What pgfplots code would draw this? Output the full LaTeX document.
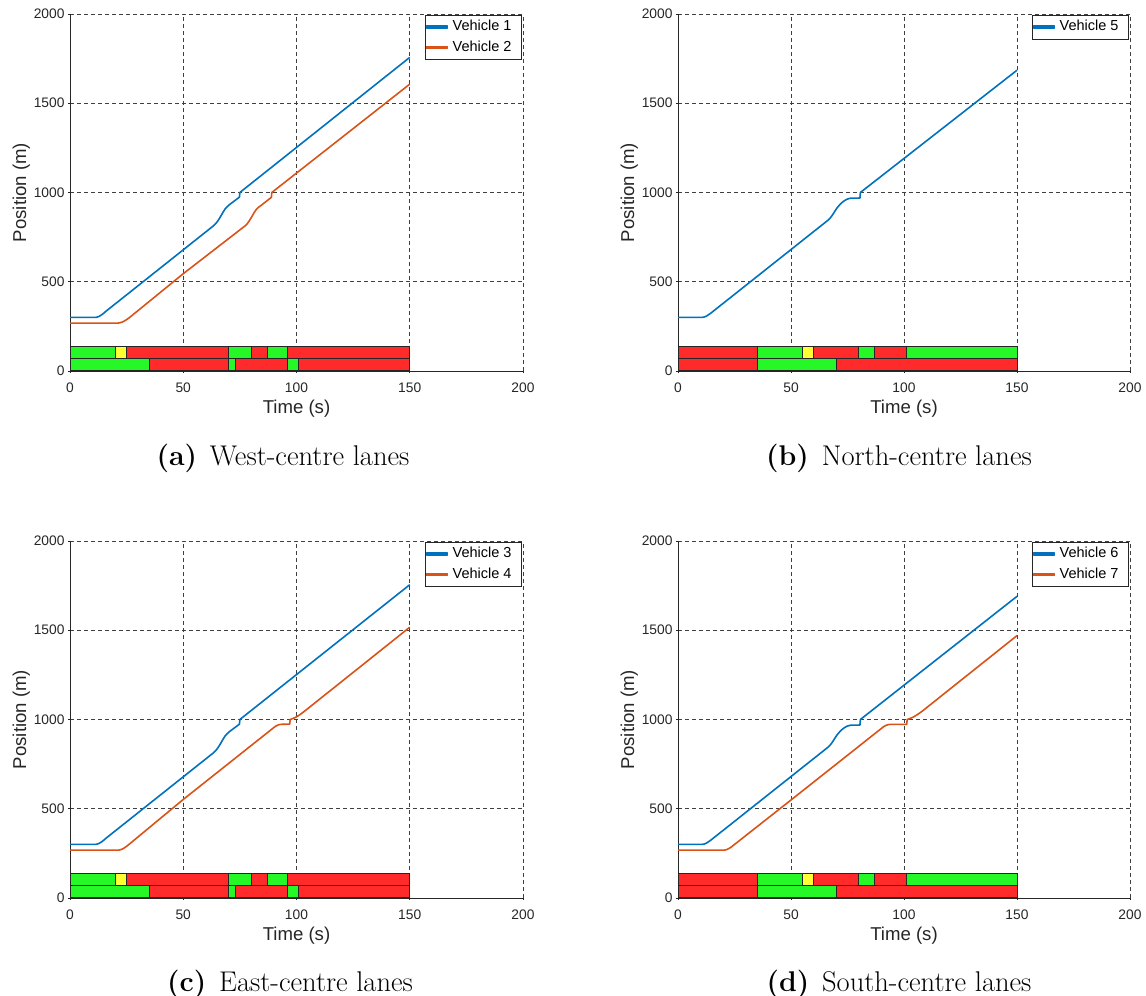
\documentclass[border=0pt]{standalone}
\usepackage{pgfplots}
\pgfplotsset{compat=1.18}
\usepackage{fontspec}
\newfontfamily\helv{Liberation Sans}
\definecolor{mblue}{rgb}{0,0.447,0.741}
\definecolor{morange}{rgb}{0.85,0.325,0.098}
\definecolor{sgreen}{rgb}{0.15,0.97,0.15}
\definecolor{sred}{rgb}{1,0.17,0.17}
\definecolor{syellow}{rgb}{1,1,0.2}
\definecolor{axgray}{rgb}{0.15,0.15,0.15}

\newcommand{\topseg}[3]{\addplot[forget plot, fill=#3, draw=axgray, line width=1pt] coordinates {(#1,70) (#2,70) (#2,140) (#1,140)} -- cycle;}
\newcommand{\botseg}[3]{\addplot[forget plot, fill=#3, draw=axgray, line width=1pt] coordinates {(#1,0) (#2,0) (#2,70) (#1,70)} -- cycle;}

\pgfplotsset{
 panel/.style={
  scale only axis, width=453pt, height=357pt, anchor=south west,
  xmin=0,xmax=200,ymin=0,ymax=2000,
  xtick={0,50,...,200}, ytick={0,500,...,2000},
  axis x line*=bottom, axis y line*=left,
  axis line style={axgray, line width=0.7pt, -},
  grid=major, grid style={black!75, line width=0.7pt, dash pattern=on 4pt off 3pt},
  tick align=outside, major tick length=2pt, tick style={axgray, line width=0.7pt},
  ticklabel style={font=\helv\fontsize{13.8}{15}\selectfont, text=axgray},
  xticklabel style={yshift=-6pt},
  /pgf/number format/assume math mode=true,
  /pgf/number format/1000 sep={},
  xlabel={Time (s)}, ylabel={Position (m)},
  label style={font=\helv\fontsize{18.6}{21}\selectfont, text=axgray},
  xlabel style={yshift=-1pt},
  ylabel style={yshift=-3pt},
  legend style={at={(rel axis cs:0.996,0.997)}, anchor=north east,
     font=\helv\fontsize{14.5}{16}\selectfont, draw=axgray,
     fill=white, inner xsep=0.5pt, inner ysep=1.5pt,
     nodes={inner xsep=2pt, inner ysep=3pt, text height=11pt, text depth=3.5pt},
     /tikz/every odd column/.append style={column sep=2.5pt}},
  legend image code/.code={\fill[#1] (0pt,-1pt) rectangle (21pt,1pt);},
  legend cell align=left,
 },
 veh/.style={line width=1.6pt, line join=round},
}

\begin{document}
\begin{tikzpicture}[x=1pt,y=1pt]
\useasboundingbox (0,0) rectangle (1146,996);

% (a)
\begin{axis}[panel, at={(70pt,625pt)}]
\topseg{0}{20}{sgreen}\topseg{20}{25}{syellow}\topseg{25}{70}{sred}\topseg{70}{80}{sgreen}
\topseg{80}{87.4}{sred}\topseg{87.4}{96.2}{sgreen}\topseg{96.2}{150}{sred}
\botseg{0}{35}{sgreen}\botseg{35}{70}{sred}\botseg{70}{73}{sgreen}\botseg{73}{96.2}{sred}
\botseg{96.2}{101}{sgreen}\botseg{101}{150}{sred}
\addplot[veh, mblue] coordinates {(0,300) (11,300) (12,302) (13,307) (14,315) (15,325) (16,336) (17,346) (63.5,815) (64.5,828) (65.5,845) (66.5,866) (67.5,888) (68.5,908) (69.5,922) (70.5,933) (74.6,972) (74.8,974) (75,1000) (150,1757)};
\addlegendentry{Vehicle 1\hspace*{7pt}}
\addplot[veh, morange] coordinates {(0,268) (21,268) (22,270) (23,274) (24,280) (25,288) (26,297) (27,307) (50,545) (77.2,812) (78.2,824) (79.2,842) (80.2,863) (81.2,885) (82.2,904) (83.2,917) (84.2,926) (88.6,970) (88.9,972) (89.1,1000) (150,1607)};
\addlegendentry{Vehicle 2\hspace*{7pt}}
\end{axis}

% (b)
\begin{axis}[panel, at={(678pt,625pt)}, width=452pt]
\topseg{0}{35}{sred}\topseg{35}{55}{sgreen}\topseg{55}{60}{syellow}\topseg{60}{80}{sred}
\topseg{80}{87}{sgreen}\topseg{87}{101}{sred}\topseg{101}{150}{sgreen}
\botseg{0}{35}{sred}\botseg{35}{70}{sgreen}\botseg{70}{150}{sred}
\addplot[veh, mblue] coordinates {(0,300) (10.5,300) (11.5,302) (12.5,307) (13.5,315) (14.5,324) (15.5,334) (16.5,344) (66.4,845) (67.4,858) (68.4,875) (69.4,895) (70.4,914) (71.4,929) (72.4,942) (73.4,952) (74.4,960) (75.4,965) (76.4,968) (80.5,969) (80.7,1000) (150,1685)};
\addlegendentry{Vehicle 5\hspace*{7pt}}
\end{axis}

% (c)
\begin{axis}[panel, at={(70pt,98pt)}]
\topseg{0}{20}{sgreen}\topseg{20}{25}{syellow}\topseg{25}{70}{sred}\topseg{70}{80}{sgreen}
\topseg{80}{87.4}{sred}\topseg{87.4}{96.2}{sgreen}\topseg{96.2}{150}{sred}
\botseg{0}{35}{sgreen}\botseg{35}{70}{sred}\botseg{70}{73}{sgreen}\botseg{73}{96.2}{sred}
\botseg{96.2}{101}{sgreen}\botseg{101}{150}{sred}
\addplot[veh, mblue] coordinates {(0,300) (11,300) (12,302) (13,307) (14,315) (15,325) (16,336) (17,346) (63.5,815) (64.5,828) (65.5,845) (66.5,866) (67.5,888) (68.5,908) (69.5,922) (70.5,933) (74.6,972) (74.8,974) (75,1000) (150,1755)};
\addlegendentry{Vehicle 3\hspace*{7pt}}
\addplot[veh, morange] coordinates {(0,268) (21.5,268) (22.5,271) (23.5,277) (24.5,285) (25.5,295) (26.5,305) (50,552) (90,955) (91,964) (92,970) (93,973) (97,974) (97.2,1000) (98.5,1006) (100,1015) (101.5,1027) (103.5,1046) (150,1517)};
\addlegendentry{Vehicle 4\hspace*{7pt}}
\end{axis}

% (d)
\begin{axis}[panel, at={(678pt,98pt)}, width=452pt]
\topseg{0}{35}{sred}\topseg{35}{55}{sgreen}\topseg{55}{60}{syellow}\topseg{60}{80}{sred}
\topseg{80}{87}{sgreen}\topseg{87}{101}{sred}\topseg{101}{150}{sgreen}
\botseg{0}{35}{sred}\botseg{35}{70}{sgreen}\botseg{70}{150}{sred}
\addplot[veh, mblue] coordinates {(0,300) (10.5,300) (11.5,302) (12.5,307) (13.5,315) (14.5,324) (15.5,334) (16.5,344) (66.4,845) (67.4,858) (68.4,875) (69.4,895) (70.4,914) (71.4,929) (72.4,942) (73.4,952) (74.4,960) (75.4,965) (76.4,968) (80.5,969) (80.7,1000) (150,1690)};
\addlegendentry{Vehicle 6\hspace*{7pt}}
\addplot[veh, morange] coordinates {(0,268) (20.5,268) (21.5,271) (22.5,277) (23.5,285) (24.5,295) (25.5,305) (50,549) (90,950) (91,960) (92,967) (93,971) (94,973) (101.2,973) (101.4,1000) (102.5,1005) (104,1013) (105.5,1024) (107.7,1043) (150,1470)};
\addlegendentry{Vehicle 7\hspace*{7pt}}
\end{axis}

\node[font=\fontsize{28.5}{32}\selectfont] at (283,538) {\textbf{(a)}\hspace{0.45em}West-centre lanes};
\node[font=\fontsize{28.5}{32}\selectfont] at (899,538) {\textbf{(b)}\hspace{0.45em}North-centre lanes};
\node[font=\fontsize{28.5}{32}\selectfont] at (290,12) {\textbf{(c)}\hspace{0.45em}East-centre lanes};
\node[font=\fontsize{28.5}{32}\selectfont] at (899,12) {\textbf{(d)}\hspace{0.45em}South-centre lanes};
\end{tikzpicture}
\end{document}
